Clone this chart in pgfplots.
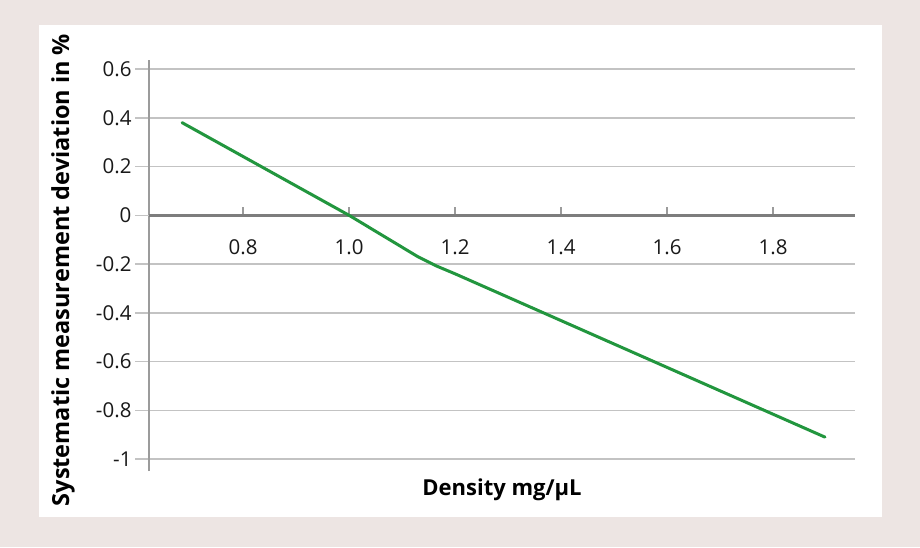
\documentclass[border=0pt]{standalone}
\usepackage{pgfplots}
\pgfplotsset{compat=1.18}
\usepackage{fontspec}
\setmainfont{Open Sans}
\definecolor{bgc}{RGB}{237,229,227}
\definecolor{gridc}{RGB}{195,195,195}
\definecolor{axc}{RGB}{155,155,155}
\definecolor{zeroc}{RGB}{125,125,125}
\definecolor{lineg}{RGB}{34,150,62}
\begin{document}
\begin{tikzpicture}[x=1pt,y=1pt]
\fill[bgc] (0,0) rectangle (920,547);
\fill[white] (39,30) rectangle (882,522);
\begin{axis}[
  at={(149pt,76pt)}, anchor=south west,
  scale only axis, width=706pt, height=411pt,
  xmin=0.6226, xmax=1.9547, ymin=-1.049, ymax=0.637,
  axis x line=none, axis y line=left,
  y axis line style={draw=axc, line width=1.2pt, -},
  ytick={-1,-0.8,-0.6,-0.4,-0.2,0,0.2,0.4,0.6},
  yticklabels={-1,-0.8,-0.6,-0.4,-0.2,0,0.2,0.4,0.6},
  ytick align=outside, major tick length=14pt,
  ytick style={draw=gridc, line width=1.5pt},
  ymajorgrids, major grid style={draw=gridc, line width=1.5pt},
  yticklabel style={font=\fontsize{20.5}{22}\selectfont, text=black!90},
  extra y ticks={0}, extra y tick labels={},
  extra y tick style={tick style={draw=zeroc, line width=3pt}, major grid style={draw=zeroc, line width=3pt}},
]
\end{axis}
\begin{axis}[
  at={(149pt,76pt)}, anchor=south west,
  scale only axis, width=706pt, height=411pt,
  xmin=0.6226, xmax=1.9547, ymin=-1.049, ymax=0.637,
  axis x line=middle, axis y line=none,
  x axis line style={draw=zeroc, line width=3pt, -},
  xtick={0.8,1.0,1.2,1.4,1.6,1.8},
  xticklabels={0.8,1.0,1.2,1.4,1.6,1.8},
  xtick align=inside, major tick length=8pt,
  xtick style={draw=axc, line width=1.2pt},
  xticklabel style={font=\fontsize{20.5}{22}\selectfont, text=black!90, anchor=base, yshift=-39pt},
  clip=false,
]
\addplot[lineg, line width=3pt, line join=round, line cap=round] coordinates {
  (0.685,0.38) (1.0,0.0) (1.13,-0.17) (1.165,-0.208) (1.2,-0.24) (1.898,-0.91)
};
\node[rotate=90, font=\bfseries\fontsize{23.5}{26}\selectfont] at (axis description cs:-0.1218,0.489) {Systematic measurement deviation in \%};
\node[font=\bfseries\fontsize{22}{25}\selectfont] at (axis description cs:0.5,-0.046) {Density mg/µL};
\end{axis}
\end{tikzpicture}
\end{document}
